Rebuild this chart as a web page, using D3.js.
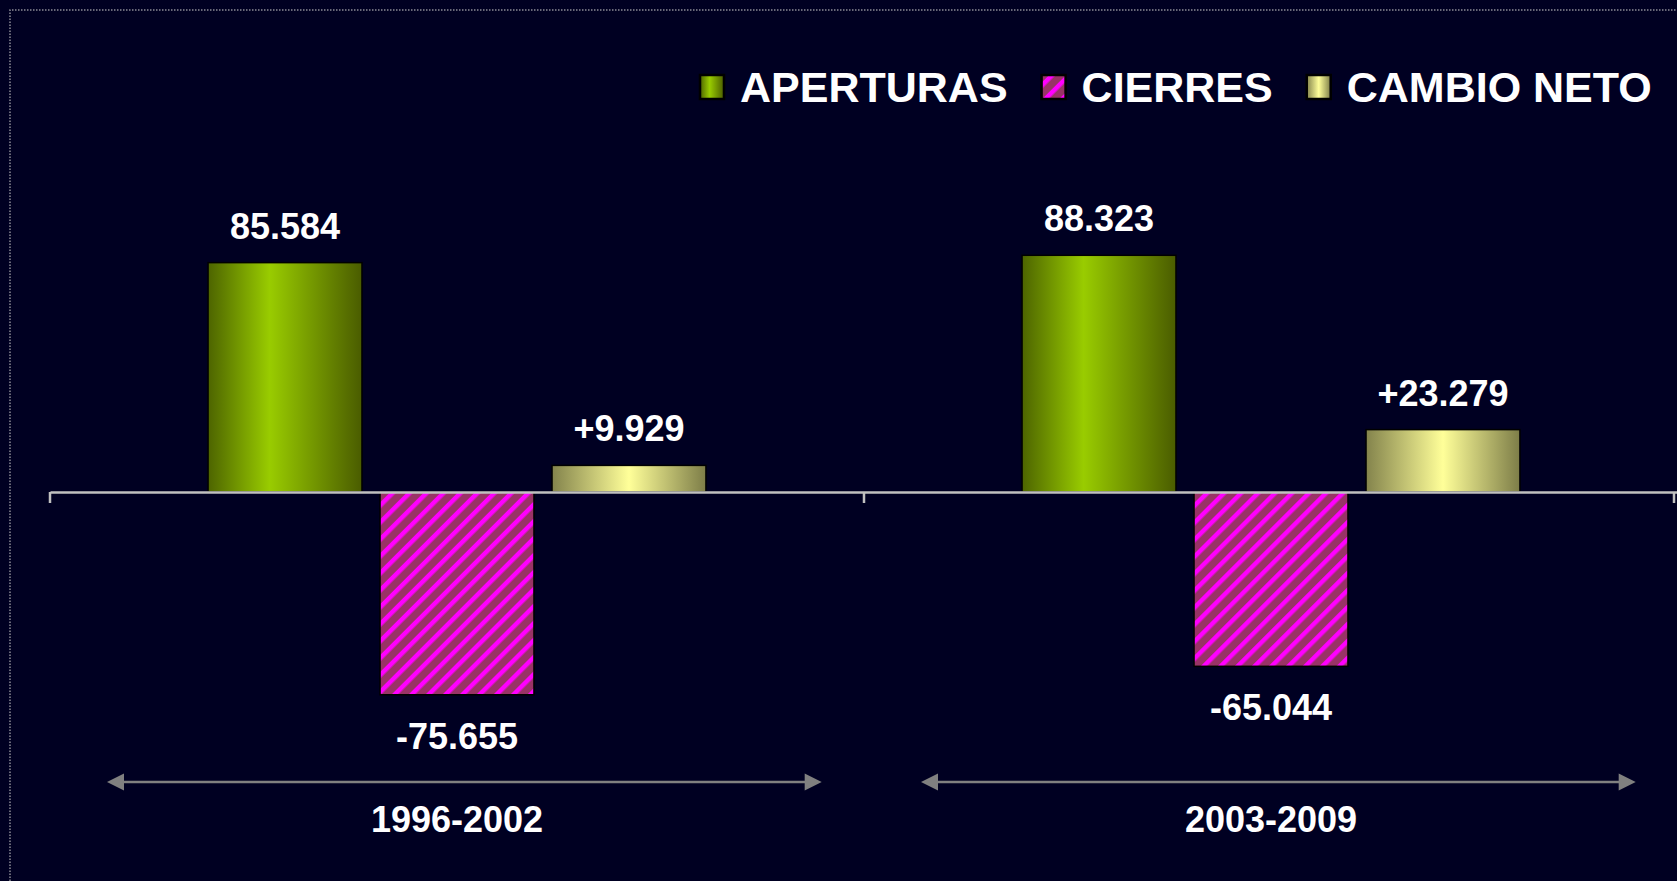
<!DOCTYPE html>
<html lang="es">
  <head>
    <meta charset="utf-8">
    <title>Aperturas y cierres</title>
    <script src="https://cdn.jsdelivr.net/npm/d3@7"></script>
    <style>
      html, body { margin: 0; padding: 0; background: #000022; overflow: hidden; }
      text { font-family: "Liberation Sans", Arial, sans-serif; font-weight: bold; fill: #ffffff; }
    </style>
  </head>
  <body>
    <script>

      // Data
      var periods = ["1996-2002", "2003-2009"];
      var series = ["APERTURAS", "CIERRES", "CAMBIO NETO"];
      var aperturas = [85584, 88323];
      var cierres = [-75655, -65044];
      var cambioNeto = [9929, 23279];

      var w = 1677;
      var h = 881;

      var locale = d3.formatLocale({ decimal: ",", thousands: ".", grouping: [3], currency: ["", ""], minus: "-" });
      var fmt = locale.format(",");
      var fmtSigned = locale.format("+,");

      // one row per bar
      var bars = [];
      periods.forEach(function(p, i) {
        bars.push({ period: p, serie: series[0], value: aperturas[i], label: fmt(aperturas[i]) });
        bars.push({ period: p, serie: series[1], value: cierres[i], label: fmt(cierres[i]) });
        bars.push({ period: p, serie: series[2], value: cambioNeto[i], label: fmtSigned(cambioNeto[i]) });
      });

      var fills = {
        "APERTURAS": "url(#gradGreen)",
        "CIERRES": "url(#hatch)",
        "CAMBIO NETO": "url(#gradYellow)"
      };

      // Scales
      var x0 = d3.scaleBand()
        .domain(periods)
        .range([50, 1678])
        .padding(0);

      var x1 = d3.scaleBand()
        .domain(series)
        .range([0, x0.bandwidth()])
        .paddingInner(0.105)
        .paddingOuter(0.919)
        .align(0.5);

      var y = d3.scaleLinear()
        .domain([-100000, 100000])
        .range([760, 224]);

      var svg = d3.select("body")
        .append("svg")
        .attr("width", w)
        .attr("height", h);

      var defs = svg.append("defs");

      //Gradients
      var gGreen = defs.append("linearGradient").attr("id", "gradGreen");
      gGreen.append("stop").attr("offset", "0%").attr("stop-color", "#4d6400");
      gGreen.append("stop").attr("offset", "40%").attr("stop-color", "#99cc00");
      gGreen.append("stop").attr("offset", "100%").attr("stop-color", "#4a5c00");

      var gYellow = defs.append("linearGradient").attr("id", "gradYellow");
      gYellow.append("stop").attr("offset", "0%").attr("stop-color", "#83834c");
      gYellow.append("stop").attr("offset", "50%").attr("stop-color", "#ffff99");
      gYellow.append("stop").attr("offset", "100%").attr("stop-color", "#7d7d48");

      // hatch for cierres
      var hatch = defs.append("pattern")
        .attr("id", "hatch")
        .attr("patternUnits", "userSpaceOnUse")
        .attr("width", 12)
        .attr("height", 12)
        .attr("patternTransform", "rotate(45)");
      hatch.append("rect").attr("width", 12).attr("height", 12).attr("fill", "#993366");
      hatch.append("rect").attr("width", 4.5).attr("height", 12).attr("fill", "#ff00ff");

      // dotted frame
      svg.append("path")
        .attr("d", "M10," + h + "V10H" + w)
        .attr("fill", "none")
        .attr("stroke", "#8c8c96")
        .attr("stroke-width", 1.5)
        .attr("stroke-dasharray", "1.5,1.5");

      //Create bars
      svg.selectAll("rect.bar")
        .data(bars)
        .enter()
        .append("rect")
        .attr("class", "bar")
        .attr("x", function(d) { return x0(d.period) + x1(d.serie); })
        .attr("y", function(d) { return y(Math.max(0, d.value)); })
        .attr("width", x1.bandwidth())
        .attr("height", function(d) { return Math.abs(y(d.value) - y(0)); })
        .attr("fill", function(d) { return fills[d.serie]; })
        .attr("stroke", "#000000")
        .attr("stroke-width", 1.5);

      // Value labels
      svg.selectAll("text.value")
        .data(bars)
        .enter()
        .append("text")
        .attr("class", "value")
        .attr("text-anchor", "middle")
        .attr("font-size", "36px")
        .attr("x", function(d) { return x0(d.period) + x1(d.serie) + x1.bandwidth() / 2; })
        .attr("y", function(d) {
          return d.value >= 0 ? y(d.value) - 24 : y(d.value) + 54;
        })
        .text(function(d) { return d.label; });

      // Axis line with ticks at group edges
      var axis = d3.axisBottom(x0)
        .tickValues([])
        .tickSizeOuter(0);
      var gAxis = svg.append("g")
        .attr("transform", "translate(0," + y(0) + ")")
        .call(axis);
      gAxis.select(".domain")
        .attr("stroke", "#c0c0c0")
        .attr("stroke-width", 2.5);
      var edges = periods.map(function(p) { return x0(p); }).concat([x0.range()[1]]);
      gAxis.selectAll("line.edge")
        .data(edges)
        .enter()
        .append("line")
        .attr("class", "edge")
        .attr("x1", function(d) { return Math.min(d, w - 3); })
        .attr("x2", function(d) { return Math.min(d, w - 3); })
        .attr("y1", 0)
        .attr("y2", 11)
        .attr("stroke", "#c0c0c0")
        .attr("stroke-width", 2.5);

      // Double arrows and period labels
      var arrowY = 782;
      var head = 17;
      var arrows = svg.selectAll("g.period")
        .data(periods)
        .enter()
        .append("g")
        .attr("class", "period")
        .attr("transform", function(d) { return "translate(" + x0(d) + ",0)"; });

      var a0 = x0.bandwidth() * 0.070;
      var a1 = x0.bandwidth() * 0.948;

      arrows.append("line")
        .attr("x1", a0 + head - 2)
        .attr("x2", a1 - head + 2)
        .attr("y1", arrowY)
        .attr("y2", arrowY)
        .attr("stroke", "#808080")
        .attr("stroke-width", 2.5);
      arrows.append("path")
        .attr("d", "M" + a0 + "," + arrowY + "l" + head + "," + (-head / 2) + "v" + head + "z")
        .attr("fill", "#808080");
      arrows.append("path")
        .attr("d", "M" + a1 + "," + arrowY + "l" + (-head) + "," + (-head / 2) + "v" + head + "z")
        .attr("fill", "#808080");

      arrows.append("text")
        .attr("text-anchor", "middle")
        .attr("font-size", "36px")
        .attr("x", x0.bandwidth() / 2)
        .attr("y", 832)
        .text(function(d) { return d; });

      // Legend
      var legend = svg.append("g").attr("transform", "translate(700,0)");
      var lx = 0;
      series.forEach(function(s) {
        legend.append("rect")
          .attr("x", lx)
          .attr("y", 75)
          .attr("width", 24)
          .attr("height", 24)
          .attr("fill", fills[s])
          .attr("stroke", "#000000")
          .attr("stroke-width", 2.5);
        var t = legend.append("text")
          .attr("x", lx + 40)
          .attr("y", 102)
          .attr("font-size", "43px")
          .text(s);
        lx = lx + 40 + t.node().getComputedTextLength() + 34;
      });

    </script>
  </body>
</html>
